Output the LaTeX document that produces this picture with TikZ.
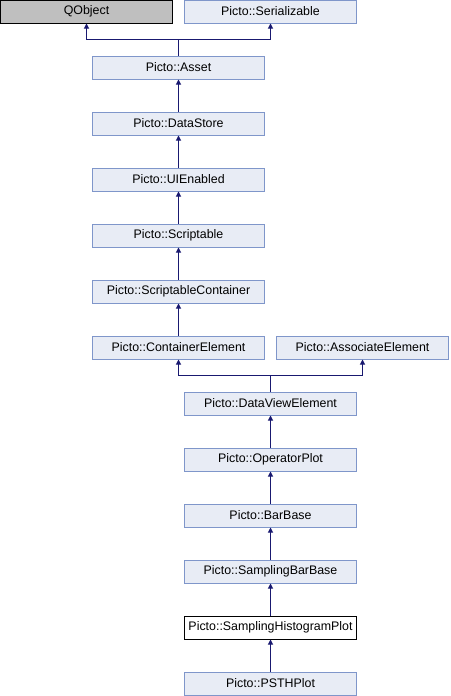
\documentclass[tikz,border=0pt]{standalone}
\usepackage{fontspec}
\setmainfont{Liberation Sans}
\usetikzlibrary{arrows.meta}

\definecolor{boxfill}{HTML}{E8ECF5}
\definecolor{boxline}{HTML}{7F96CA}
\definecolor{arrline}{HTML}{191970}

\tikzset{
    cls/.style={draw=boxline, fill=boxfill, line width=1pt, minimum width=172pt,
        minimum height=23pt, inner sep=0pt, font=\fontsize{12.4}{14}\selectfont},
    ext/.style={cls, draw=black, fill=gray!50},
    cur/.style={cls, draw=black, fill=white},
    inh/.style={draw=arrline, line width=1pt, -{Triangle[length=5pt,width=5pt]}}
}

\begin{document}
\begin{tikzpicture}[x=1pt, y=-1pt]
        \useasboundingbox (0,0) rectangle (450,696);

        \node[ext] (qobject) at (86.5,11.5) {QObject};
        \node[cls] (serial) at (270.5,11.5) {Picto::Serializable};
        \node[cls] (asset) at (178.5,67.5) {Picto::Asset};
        \node[cls] (store) at (178.5,123.5) {Picto::DataStore};
        \node[cls] (ui) at (178.5,179.5) {Picto::UIEnabled};
        \node[cls] (script) at (178.5,235.5) {Picto::Scriptable};
        \node[cls] (scont) at (178.5,291.5) {Picto::ScriptableContainer};
        \node[cls] (celem) at (178.5,347.5) {Picto::ContainerElement};
        \node[cls] (aelem) at (362.5,347.5) {Picto::AssociateElement};
        \node[cls] (dview) at (270.5,403.5) {Picto::DataViewElement};
        \node[cls] (opplot) at (270.5,459.5) {Picto::OperatorPlot};
        \node[cls] (bar) at (270.5,515.5) {Picto::BarBase};
        \node[cls] (sbar) at (270.5,571.5) {Picto::SamplingBarBase};
        \node[cur] (shist) at (270.5,627.5) {Picto::SamplingHistogramPlot};
        \node[cls] (psth) at (270.5,683.5) {Picto::PSTHPlot};

        \draw[inh] (asset.north) -- ++(0,-16) -| (qobject.south);
        \draw[inh] (asset.north) -- ++(0,-16) -| (serial.south);
        \draw[inh] (store) -- (asset);
        \draw[inh] (ui) -- (store);
        \draw[inh] (script) -- (ui);
        \draw[inh] (scont) -- (script);
        \draw[inh] (celem) -- (scont);
        \draw[inh] (dview.north) -- ++(0,-16) -| (celem.south);
        \draw[inh] (dview.north) -- ++(0,-16) -| (aelem.south);
        \draw[inh] (opplot) -- (dview);
        \draw[inh] (bar) -- (opplot);
        \draw[inh] (sbar) -- (bar);
        \draw[inh] (shist) -- (sbar);
        \draw[inh] (psth) -- (shist);
\end{tikzpicture}
\end{document}
